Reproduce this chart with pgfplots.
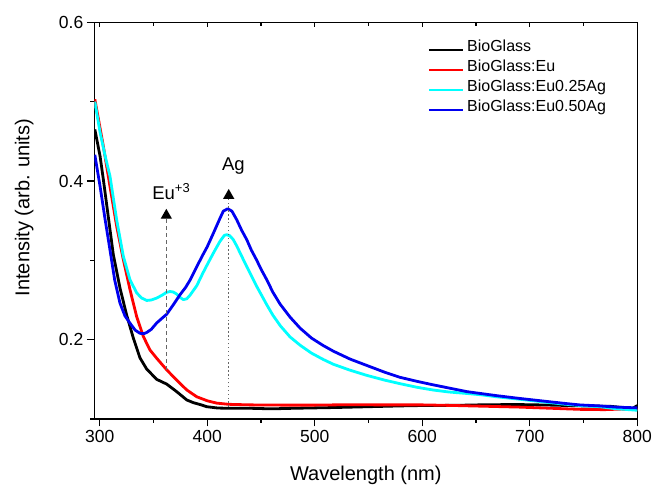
\documentclass[border=0pt]{standalone}
\usepackage{fontspec}
\setmainfont{Liberation Sans}
\usepackage{pgfplots}
\pgfplotsset{compat=1.18}
\usetikzlibrary{arrows.meta}
\definecolor{cBlack}{RGB}{0,0,0}
\definecolor{cRed}{RGB}{255,0,0}
\definecolor{cCyan}{RGB}{0,255,255}
\definecolor{cBlue}{RGB}{0,0,240}

\begin{document}
\begin{tikzpicture}
\begin{axis}[
  name=main,
  scale only axis, width=543bp, height=396.7bp,
  xmin=295, xmax=800, ymin=0.1, ymax=0.6,
  xtick={300,400,...,800}, minor xtick={350,450,...,750},
  ytick={0.2,0.4,0.6}, minor ytick={0.1,0.3,0.5},
  xtick pos=bottom, ytick pos=left,
  tick align=outside,
  major tick length=7.5bp, minor tick length=4bp,
  axis line style={line width=1.4bp},
  every tick/.style={black, line width=1.1bp},
  /pgf/number format/assume math mode=true,
  tick label style={font=\fontsize{17.5bp}{20bp}\selectfont},
  yticklabel style={/pgf/number format/fixed, /pgf/number format/precision=1},
  label style={font=\fontsize{20bp}{24bp}\selectfont},
  xlabel={Wavelength (nm)},
  ylabel={Intensity (arb. units)},
  xlabel style={at={(axis description cs:0.5,-0.1538)}, anchor=base},
  ylabel style={at={(axis description cs:-0.1197,0.533)}, anchor=base},
  legend style={at={(0.613,0.956)}, anchor=north west, draw=none, fill=none,
    inner sep=0pt, row sep=0pt, font=\fontsize{16bp}{19bp}\selectfont,
    nodes={inner ysep=0pt, inner xsep=3bp, text height=12bp, text depth=8bp}},
  legend cell align=left,
  legend image code/.code={\draw[#1, line width=2.8bp] (0bp,0bp) -- (34bp,0bp);},
  every axis plot/.append style={line width=2.8bp, line join=round},
]
\addplot[cBlack] coordinates {
(295.5,0.465)(300.4,0.431)(303.4,0.402)(308.0,0.355)(312.7,0.307)(318.9,0.265)
(325.1,0.231)(331.3,0.202)(337.5,0.177)(343.7,0.163)(353.0,0.150)(362.3,0.144)
(371.6,0.1345)(381.0,0.124)(387.1,0.1206)(394,0.118)(399.6,0.1155)(410,0.1138)
(421,0.1135)(440,0.1135)(460,0.1128)(480,0.1135)(500,0.1140)(520,0.1145)
(550,0.1155)(580,0.1165)(600,0.1170)(630,0.1172)(660,0.1180)(690,0.1182)
(720,0.1175)(750,0.1165)(775,0.1160)(790,0.1140)(796,0.1135)(800,0.117)};
\addlegendentry{BioGlass}
\addplot[cRed] coordinates {
(295.5,0.503)(303.4,0.444)(309.6,0.393)(315.8,0.343)(322.0,0.301)(328.2,0.263)
(334.4,0.229)(340.6,0.204)(346.8,0.187)(353.0,0.1766)(362.3,0.162)(371.6,0.149)
(381.0,0.1366)(390.3,0.128)(400,0.123)(408.9,0.120)(420,0.1185)(440,0.1178)
(470,0.1175)(500,0.1175)(530,0.118)(560,0.1178)(600,0.1178)(630,0.117)
(660,0.116)(690,0.1150)(720,0.1135)(750,0.1120)(770,0.1118)(785,0.1125)(800,0.112)};
\addlegendentry{BioGlass:Eu}
\addplot[cCyan] coordinates {
(295.5,0.500)(300.4,0.461)(305,0.432)(309.6,0.406)(315.8,0.351)(322,0.305)
(328.2,0.2755)(334.4,0.259)(339,0.2525)(343.7,0.2494)(348,0.250)(353,0.2524)
(358,0.256)(362,0.2595)(365.4,0.2607)(368.5,0.2600)(371.6,0.2575)(374.5,0.2535)
(377.8,0.2505)(381,0.2515)(384,0.256)(390.3,0.268)(396,0.284)(401,0.297)
(405.7,0.309)(411.9,0.324)(416,0.3315)(418.2,0.3323)(421,0.331)(424.3,0.326)
(427.5,0.318)(436.8,0.292)(446.1,0.267)(455.4,0.244)(461,0.231)(468,0.2175)
(477,0.2035)(486.4,0.193)(497,0.183)(508,0.175)(517.3,0.169)(532.9,0.1615)
(548.4,0.155)(565,0.149)(579.4,0.1445)(595,0.140)(610.3,0.1365)(625,0.134)
(641.4,0.1322)(655,0.1305)(669.3,0.128)(690,0.125)(710,0.122)(730,0.119)
(746.8,0.117)(765,0.1155)(780,0.113)(790,0.112)(800,0.111)};
\addlegendentry{BioGlass:Eu0.25Ag}
\addplot[cBlue] coordinates {
(295.5,0.433)(300.4,0.393)(305,0.352)(309.6,0.313)(314,0.275)(318.9,0.246)
(323.5,0.230)(328.2,0.2208)(333,0.212)(337.5,0.208)(341,0.2075)(343.7,0.209)
(348,0.213)(353,0.221)(358,0.227)(362.3,0.232)(368.5,0.244)(374.7,0.2566)
(380,0.266)(384,0.275)(390.3,0.292)(396,0.307)(400,0.317)(405.7,0.334)
(411.9,0.353)(415,0.362)(419.1,0.365)(423,0.362)(427.5,0.351)(432,0.338)
(436.8,0.326)(441,0.313)(446.1,0.300)(450,0.289)(455.4,0.2755)(461,0.260)
(467.7,0.245)(477,0.2285)(486.4,0.2145)(497,0.202)(508,0.1925)(517.3,0.1855)
(532.9,0.1755)(548.4,0.1675)(565,0.159)(579.4,0.1525)(595,0.1475)(610.3,0.143)
(625,0.139)(641.4,0.1345)(655,0.132)(669.3,0.1294)(690,0.126)(710,0.123)
(730,0.120)(746.8,0.1177)(765,0.1165)(780,0.115)(800,0.114)};
\addlegendentry{BioGlass:Eu0.50Ag}
% peak markers
\draw[black!60, line width=1.4bp, dash pattern=on 4bp off 3bp,
  -{Triangle[width=11bp,length=10bp,black]}] (axis cs:362,0.162) -- (axis cs:362,0.365);
\draw[black!60, line width=1.4bp, dash pattern=on 1.4bp off 2.5bp,
  -{Triangle[width=11bp,length=10bp,black]}] (axis cs:420,0.1155) -- (axis cs:420,0.390);
\node[anchor=base, font=\fontsize{18.5bp}{22bp}\selectfont] at (axis cs:366.6,0.377) {Eu\textsuperscript{+3}};
\node[anchor=base, font=\fontsize{18.5bp}{22bp}\selectfont] at (axis cs:424.3,0.4135) {Ag};
\end{axis}
% top axis ticks point inward
\begin{axis}[
  scale only axis, width=543bp, height=396.7bp,
  xmin=295, xmax=800, ymin=0.1, ymax=0.6,
  xtick={300,400,...,800}, minor xtick={350,450,...,750},
  ytick=\empty, xticklabels={}, axis line style={draw=none},
  xtick pos=upper, tick align=inside,
  major tick length=4.5bp, minor tick length=4bp,
  every tick/.style={black, line width=1.1bp},
]
\end{axis}
\path (main.south west) ++(-94.3bp,-65bp) rectangle ([shift={(30.7bp,22.3bp)}]main.north east);
\end{tikzpicture}
\end{document}
